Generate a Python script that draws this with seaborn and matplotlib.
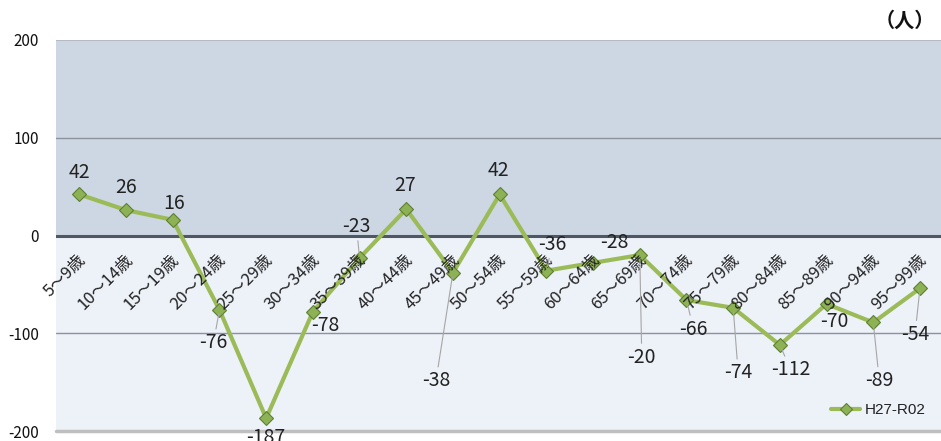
import numpy as np
import pandas as pd
import matplotlib
matplotlib.use("Agg")
import matplotlib.pyplot as plt
import seaborn as sns

# ---- data ----
categories = ["5〜9歳", "10〜14歳", "15〜19歳", "20〜24歳", "25〜29歳", "30〜34歳",
              "35〜39歳", "40〜44歳", "45〜49歳", "50〜54歳", "55〜59歳", "60〜64歳",
              "65〜69歳", "70〜74歳", "75〜79歳", "80〜84歳", "85〜89歳", "90〜94歳",
              "95〜99歳"]
values = [42, 26, 16, -76, -187, -78, -23, 27, -38, 42, -36, -28, -20, -66, -74,
          -112, -70, -89, -54]
series_name = "H27-R02"
y_ticks = [200, 100, 0, -100, -200]
unit_label = "（人）"

# label placement offsets (pixels) and whether a leader line is drawn
label_offsets = [(0, 22), (0, 23), (1, 16), (-6, -33), (0, -19), (12, -14),
                 (-3, 31), (-1, 24), (-17, -108), (-1, 24), (6, 26), (21, 20),
                 (2, -102), (7, -29), (5, -65), (11, -25), (8, -18), (6, -58),
                 (-5, -46)]
leader = [False, False, False, True, False, False, True, False, True, False,
          True, False, True, True, True, True, False, True, True]

sns.set_style("white")
plt.rcParams['font.family'] = ['Noto Sans CJK JP', 'DejaVu Sans']

df = pd.DataFrame({"idx": np.arange(len(categories)), "value": values,
                   "series": series_name})

fig = plt.figure(figsize=(9.41, 4.41), dpi=100)
ax = fig.add_axes([56 / 941, 10 / 441, 885 / 941, 391 / 441])

upper_col = "#CDD7E3"
lower_col = "#EDF1F8"
ax.axhspan(0, 200, color=upper_col, zorder=0, lw=0)
ax.axhspan(-200, 0, color=lower_col, zorder=0, lw=0)
ax.axhline(100, color="#8C939D", lw=1.0, zorder=1)
ax.axhline(-100, color="#8C939D", lw=1.0, zorder=1)
ax.axhline(200, color="#B5BAC2", lw=1.5, zorder=1)
ax.axhline(-200, color="#BFBFBF", lw=2.5, zorder=1, clip_on=False)
ax.axhline(0, color="#4F5763", lw=2.2, zorder=1)

sns.lineplot(data=df, x="idx", y="value", hue="series", palette=["#9BBB59"],
             marker="D", markersize=7, markerfacecolor="#8DB255",
             markeredgecolor="#5E7F33", markeredgewidth=0.8,
             linewidth=3, ax=ax, zorder=3)

ax.set_xlim(-0.5, 18.45)
ax.set_ylim(-200, 200)
ax.set_yticks(y_ticks)
ax.set_yticklabels([str(v) for v in y_ticks], fontsize=11, color="#111111")
ax.tick_params(axis="y", length=0, pad=12.5)
ax.set_xticks([])
ax.set_xlabel("")
ax.set_ylabel("")
for s in ax.spines.values():
    s.set_visible(False)

# category labels along the zero line
for i, cat in enumerate(categories):
    ax.annotate(cat, xy=(i, 0), xytext=(4, -22), textcoords="offset pixels",
                rotation=45, rotation_mode="anchor", ha="right", va="center",
                fontsize=12, color="#222222", zorder=4)

# data labels
for i, v in enumerate(values):
    dx, dy = label_offsets[i]
    kw = {}
    if leader[i]:
        kw["arrowprops"] = dict(arrowstyle="-", color="#A6A6A6", lw=0.8,
                                shrinkA=0, shrinkB=3)
    ax.annotate(str(v), xy=(i, v), xytext=(dx, dy), textcoords="offset pixels",
                ha="center", va="center", fontsize=14, color="#222222",
                zorder=5, annotation_clip=False, **kw)

leg = ax.legend(loc="lower right", bbox_to_anchor=(0.998, 0.0), frameon=False,
                handlelength=1.9, handletextpad=0.3,
                prop={"family": ["Liberation Sans", "DejaVu Sans"], "size": 11})
for t in leg.get_texts():
    t.set_color("#222222")
for h in leg.legend_handles:
    h.set_markersize(6)

fig.text(0.994, 0.955, unit_label, ha="right", va="center", fontsize=14.5,
         fontweight="bold", color="#111111")

fig.savefig("out.png", dpi=100)
